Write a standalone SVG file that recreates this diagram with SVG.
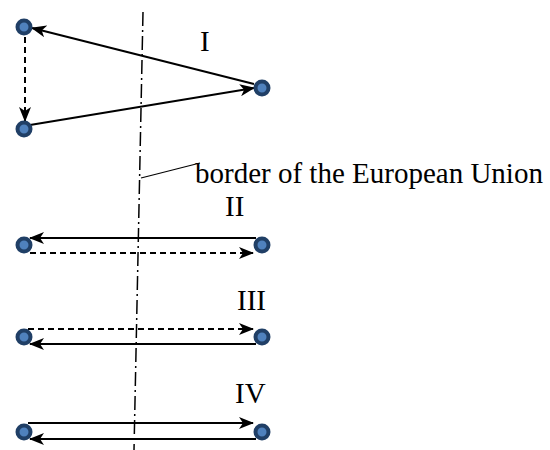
<svg xmlns="http://www.w3.org/2000/svg" width="550" height="450" viewBox="0 0 550 450">
<defs>
<marker id="ah" markerWidth="15" markerHeight="12" refX="14" refY="6" orient="auto" markerUnits="userSpaceOnUse">
<path d="M0,0 L15,6 L0,12 L4,6 Z" fill="#000"/>
</marker>
<style>
.c{stroke:#000;stroke-width:2;fill:none}
.d{stroke-dasharray:6,4}
.n1{fill:#4f81bd;stroke:#203f66;stroke-width:4}
.t{font-family:"Liberation Serif",serif;font-size:29px;fill:#000}
.b{stroke:#000;stroke-width:1.5;fill:none;stroke-dasharray:14,4,2,4}
</style>
</defs>
<rect width="550" height="450" fill="#fff"/>
<g id="border">
<line class="b" x1="143" y1="12" x2="134" y2="450"/>
<line x1="141" y1="178" x2="200" y2="163" stroke="#000" stroke-width="1.2"/>
</g>
<g id="connectors">
<line class="c" x1="254" y1="84" x2="32" y2="28" marker-end="url(#ah)"/>
<line class="c" x1="30" y1="125" x2="254" y2="88" marker-end="url(#ah)"/>
<line class="c d" x1="25" y1="37" x2="25" y2="121" marker-end="url(#ah)"/>
<line class="c" x1="256" y1="238" x2="30" y2="238" marker-end="url(#ah)"/>
<line class="c d" x1="30" y1="253" x2="253" y2="253" marker-end="url(#ah)"/>
<line class="c d" x1="28" y1="329" x2="253" y2="329" marker-end="url(#ah)"/>
<line class="c" x1="256" y1="344" x2="30" y2="344" marker-end="url(#ah)"/>
<line class="c" x1="28" y1="423" x2="253" y2="423" marker-end="url(#ah)"/>
<line class="c" x1="256" y1="439" x2="30" y2="439" marker-end="url(#ah)"/>
</g>
<g id="n1"><circle class="n1" cx="24" cy="27" r="6.5"/></g>
<g id="n2"><circle class="n1" cx="262" cy="88" r="6.5"/></g>
<g id="n3"><circle class="n1" cx="24" cy="129" r="6.5"/></g>
<g id="n4"><circle class="n1" cx="24" cy="245" r="6.5"/></g>
<g id="n5"><circle class="n1" cx="262" cy="245" r="6.5"/></g>
<g id="n6"><circle class="n1" cx="24" cy="337" r="6.5"/></g>
<g id="n7"><circle class="n1" cx="262" cy="337" r="6.5"/></g>
<g id="n8"><circle class="n1" cx="24" cy="432" r="6.5"/></g>
<g id="n9"><circle class="n1" cx="262" cy="432" r="6.5"/></g>
<g id="labels">
<text class="t" x="200" y="51">I</text>
<text class="t" x="225" y="216">II</text>
<text class="t" x="237" y="310">III</text>
<text class="t" x="235" y="403">IV</text>
<text class="t" x="195" y="183">border of the European Union</text>
</g>
</svg>
